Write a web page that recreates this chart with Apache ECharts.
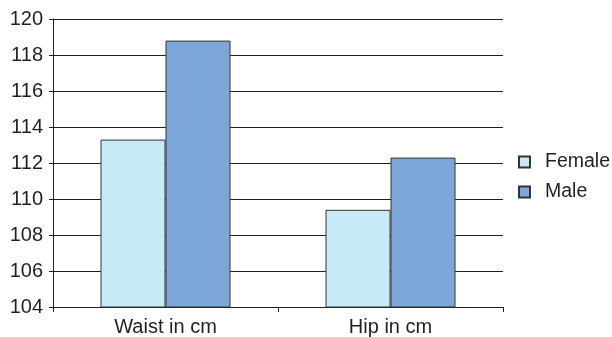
<!DOCTYPE html>
<html>
<head>
<meta charset="utf-8">
<script src="https://cdn.jsdelivr.net/npm/echarts@6/dist/echarts.min.js"></script>
<style>
  html, body { margin: 0; padding: 0; background: #fff; }
  #chart { width: 612px; height: 337px; }
</style>
</head>
<body>
<div id="chart"></div>
<script>
// Average body measurements by sex
const categories = ['Waist in cm', 'Hip in cm'];
const femaleValues = [113.3, 109.4];
const maleValues = [118.8, 112.3];
const seriesNames = ['Female', 'Male'];

const font = '"Liberation Sans", Arial, sans-serif';
const textColor = '#231f20';
const lineColor = '#231f20';

const chart = echarts.init(document.getElementById('chart'), null, { renderer: 'canvas' });

chart.setOption({
  animation: false,
  backgroundColor: '#ffffff',
  grid: { left: 53, top: 19, right: 109, bottom: 30, containLabel: false },
  legend: {
    orient: 'vertical',
    left: 518,
    top: 151,
    padding: 0,
    itemWidth: 11,
    itemHeight: 11,
    itemGap: 8,
    icon: 'rect',
    data: seriesNames,
    textStyle: { fontFamily: font, fontSize: 19.5, color: textColor, padding: [0, 0, 0, 10], lineHeight: 22 }
  },
  xAxis: {
    type: 'category',
    data: categories,
    boundaryGap: true,
    axisLine: { show: true, lineStyle: { color: lineColor, width: 1 } },
    axisTick: { show: true, length: 5, lineStyle: { color: lineColor } },
    axisLabel: { fontFamily: font, fontSize: 20, color: textColor, margin: 10 },
    splitLine: { show: false }
  },
  yAxis: {
    type: 'value',
    min: 104,
    max: 120,
    interval: 2,
    axisLine: { show: true, lineStyle: { color: lineColor, width: 1 } },
    axisTick: { show: true, length: 4, lineStyle: { color: lineColor } },
    axisLabel: { fontFamily: font, fontSize: 20, color: textColor, margin: 10 },
    splitLine: { show: true, lineStyle: { color: lineColor, width: 1 } }
  },
  series: [
    {
      name: seriesNames[0],
      type: 'bar',
      data: femaleValues,
      barWidth: 65,
      barGap: '0%',
      itemStyle: { color: '#c8e9f8', borderColor: '#333333', borderWidth: 1 }
    },
    {
      name: seriesNames[1],
      type: 'bar',
      data: maleValues,
      barWidth: 65,
      barGap: '0%',
      itemStyle: { color: '#7ca7d8', borderColor: '#333333', borderWidth: 1 }
    }
  ]
});
</script>
</body>
</html>
